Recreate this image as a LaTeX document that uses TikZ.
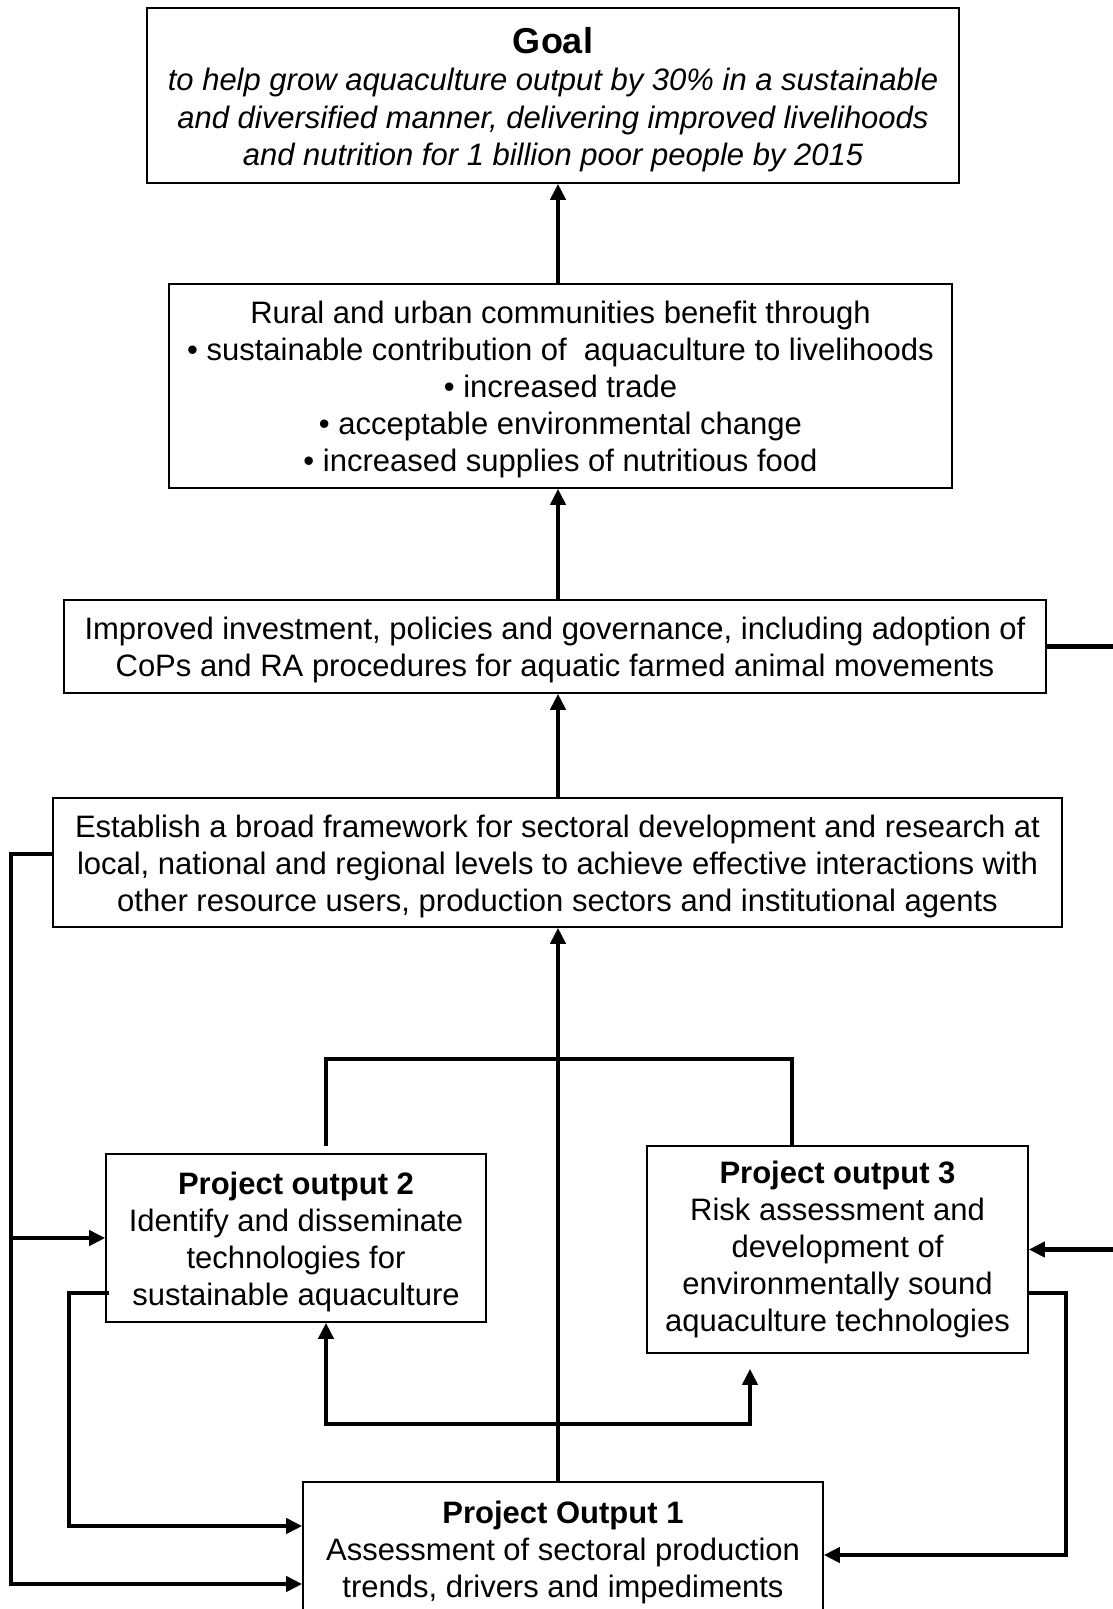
\documentclass[tikz,border=0pt]{standalone}
\usepackage{fontspec}
\setmainfont{Liberation Sans}
\usetikzlibrary{arrows.meta,calc}
\newcommand{\topgap}[1]{\rule{0pt}{#1pt}}
\tikzset{
  logbox/.style={draw,line width=1.6pt,align=center,inner sep=0pt,font=\fontsize{31}{37}\selectfont},
  arr/.style={-{Triangle[length=16pt,width=15pt]},line width=4.5pt},
  lnk/.style={line width=4pt}
}
\begin{document}
\begin{tikzpicture}[x=1pt,y=-1pt]
          \useasboundingbox (0,0) rectangle (1112,1609);
          %% boxes, top to bottom
          \node[logbox,minimum width=812pt,minimum height=175pt,font=\fontsize{31}{37.5}\selectfont\itshape] (nGoal) at (553,95.5)
            {\topgap{34}{\upshape\bfseries\fontsize{36}{37.5}\selectfont Goal}\\to help grow aquaculture output by 30\% in a sustainable\\and diversified manner, delivering improved livelihoods\\and nutrition for 1 billion poor people by 2015};
          \node[logbox,minimum width=783pt,minimum height=204pt] (nRural) at (560.5,386)
            {\topgap{30}Rural and urban communities benefit through\\• sustainable contribution of \ aquaculture to livelihoods\\• increased trade\\• acceptable environmental change\\• increased supplies of nutritious food};
          \node[logbox,minimum width=982pt,minimum height=93pt] (nInv) at (555,646.5)
            {\topgap{30}Improved investment, policies and governance, including adoption of\\CoPs and RA procedures for aquatic farmed animal movements};
          \node[logbox,minimum width=1009pt,minimum height=129pt] (nFrame) at (557.5,862.5)
            {\topgap{30}Establish a broad framework for sectoral development and research at\\local, national and regional levels to achieve effective interactions with\\other resource users, production sectors and institutional agents};
          \node[logbox,minimum width=380pt,minimum height=168pt] (nOut2) at (296,1238)
            {\topgap{30}\textbf{Project output 2}\\Identify and disseminate\\technologies for\\sustainable aquaculture};
          \node[logbox,minimum width=381pt,minimum height=207pt] (nOut3) at (837.5,1249.5)
            {\textbf{Project output 3}\\Risk assessment and\\development of\\environmentally sound\\aquaculture technologies};
          \node[logbox,minimum width=520pt,minimum height=134pt] (nOut1) at (563,1549)
            {\topgap{30}\textbf{Project Output 1}\\Assessment of sectoral production\\trends, drivers and impediments};
          %% helper points
          \coordinate (cSpine) at (558,0);
          \coordinate (cJL) at (326,1059);
          \coordinate (cJR) at (792,1059);
          \coordinate (cHub) at (558,1424);
          \coordinate (cRx) at (750,0);
          \coordinate (cLx) at (11,0);
          \coordinate (cMx) at (69,0);
          \coordinate (cEx) at (1066,0);
          %% main chain
          \draw[arr] (nRural.north -| cSpine) -- (nGoal.south -| cSpine);
          \draw[arr] (nInv.north -| cSpine) -- (nRural.south -| cSpine);
          \draw[arr] (nFrame.north -| cSpine) -- (nInv.south -| cSpine);
          \draw[arr,line width=3.8pt] (nOut1.north -| cSpine) -- (nFrame.south -| cSpine);
          %% outputs 2 and 3 joined on top
          \draw[lnk] ($(nOut2.north -| cJL)+(0,-7)$) -- (cJL) -- (cJR) -- (nOut3.north -| cJR);
          %% from output 1 to outputs 2 and 3
          \draw[arr] (cHub) -| (nOut2.south -| cJL);
          \draw[arr] (cHub) -| ($(nOut3.south -| cRx)+(0,15)$);
          %% feedback loops
          \draw[arr] ($(nFrame.west)+(0,-8.5)$) -| ($(cLx |- nOut1.west)+(0,35)$) -- ($(nOut1.west)+(0,35)$);
          \draw[arr] (cLx |- nOut2.west) -- (nOut2.west);
          \draw[arr] ($(nOut2.west)+(4,55)$) -| ($(cMx |- nOut1.west)+(0,-23)$) -- ($(nOut1.west)+(0,-23)$);
          \draw[arr] ($(nOut3.east)+(0,43.5)$) -| ($(cEx |- nOut1.east)+(0,6)$) -- ($(nOut1.east)+(0,6)$);
          \draw[arr] (nInv.east) -- ++(90,0) |- (nOut3.east);
        \end{tikzpicture}
\end{document}
